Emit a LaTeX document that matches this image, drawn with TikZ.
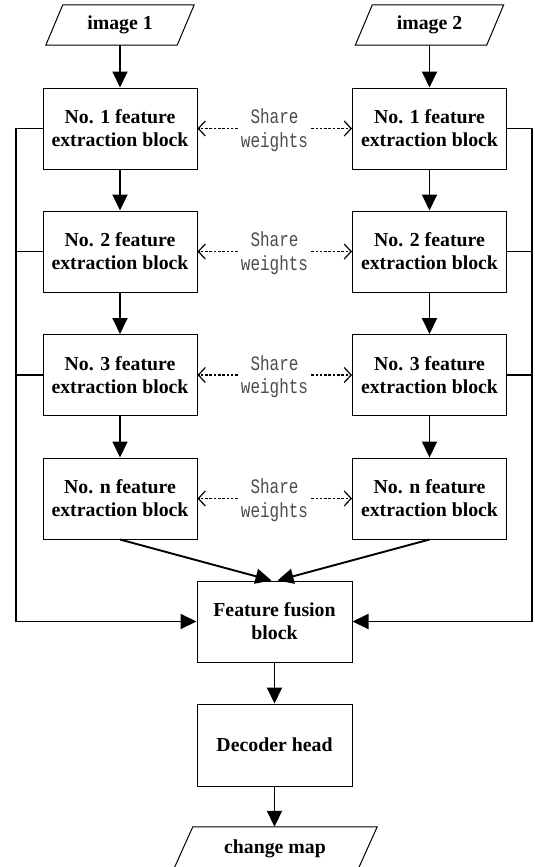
\documentclass[tikz,border=0pt]{standalone}
\usepackage{fontspec}
\setmainfont{Liberation Serif}
\newfontfamily\swfont[FakeStretch=0.78]{Liberation Mono}
\usetikzlibrary{arrows.meta}
\begin{document}
\begin{tikzpicture}[x=1pt,y=-1pt,
  fbox/.style={draw, line width=1pt, minimum width=154pt, minimum height=81pt,
    inner sep=0pt, align=center, font=\bfseries\fontsize{19.8}{23}\selectfont},
  para/.style={inner sep=0pt, minimum height=40pt, align=center,
    font=\bfseries\fontsize{19.8}{23}\selectfont},
  paraline/.style={line width=1pt},
  flow/.style={line width=1.9pt, -{Triangle[length=16pt,width=15pt]}},
  link/.style={line width=1.9pt},
  share/.style={align=center, font=\swfont\fontsize{20.5}{23.5}\selectfont,
    text=black!70, inner xsep=3pt, inner ysep=0pt},
  sharearrow/.style={line width=1.2pt, dash pattern=on 2.5pt off 1.8pt,
    -{Straight Barb[length=7pt,width=15pt,line width=1.2pt]}}]
\path[use as bounding box] (0,0) rectangle (535,867);

% inputs
\node[para, minimum width=148pt] (img1) at (120,25) {image 1};
\draw[paraline] ([xshift=17pt]img1.north west) -- (img1.north east)
  -- ([xshift=-17pt]img1.south east) -- (img1.south west) -- cycle;
\node[para, minimum width=148pt] (img2) at (429.5,25) {image 2};
\draw[paraline] ([xshift=17pt]img2.north west) -- (img2.north east)
  -- ([xshift=-17pt]img2.south east) -- (img2.south west) -- cycle;

% feature extraction blocks
\node[fbox] (L1) at (120,128.5) {No. 1 feature\\extraction block};
\node[fbox] (L2) at (120,251.5) {No. 2 feature\\extraction block};
\node[fbox] (L3) at (120,375) {No. 3 feature\\extraction block};
\node[fbox] (Ln) at (120,498.5) {No. n feature\\extraction block};
\node[fbox] (R1) at (429.5,128.5) {No. 1 feature\\extraction block};
\node[fbox] (R2) at (429.5,251.5) {No. 2 feature\\extraction block};
\node[fbox] (R3) at (429.5,375) {No. 3 feature\\extraction block};
\node[fbox] (Rn) at (429.5,498.5) {No. n feature\\extraction block};

% share weights
\node[share] (s1) at (274.5,130) {Share\\weights};
\node[share] (s2) at (274.5,253) {Share\\weights};
\node[share] (s3) at (274.5,376.5) {Share\\weights};
\node[share] (sn) at (274.5,500) {Share\\weights};
\foreach \s/\l/\r in {s1/L1/R1, s2/L2/R2, s3/L3/R3, sn/Ln/Rn}{
  \draw[sharearrow] (\s.west |- \l.east) -- (\l.east);
  \draw[sharearrow] (\s.east |- \r.west) -- (\r.west);
}

% fusion, decoder, output
\node[fbox, minimum width=155pt] (fus) at (274.5,621.5) {Feature fusion\\block};
\node[fbox, minimum width=155pt, minimum height=82pt] (dec) at (274.5,745) {Decoder head};
\node[para, minimum width=204pt, minimum height=44pt] (out) at (275,849) {change map};
\draw[paraline] ([xshift=20pt]out.north west) -- (out.north east)
  -- ([xshift=-20pt]out.south east) -- (out.south west) -- cycle;

% vertical flow
\draw[flow] (img1) -- (L1);
\draw[flow] (L1) -- (L2);
\draw[flow] (L2) -- (L3);
\draw[flow] (L3) -- (Ln);
\draw[flow] (img2) -- (R1);
\draw[flow] (R1) -- (R2);
\draw[flow] (R2) -- (R3);
\draw[flow] (R3) -- (Rn);
\draw[flow] (Ln.south) -- ([xshift=-3pt]fus.north);
\draw[flow] (Rn.south) -- ([xshift=3pt]fus.north);
\draw[flow] (fus) -- (dec);
\draw[flow] (dec.south) -- (dec.south |- out.north);

% side buses
\coordinate (busL) at (16,0);
\coordinate (busR) at (532,0);
\draw[flow] (L1.west) -- (L1.west -| busL) |- (fus.west);
\draw[link] (L2.west) -- (L2.west -| busL);
\draw[link] (L3.west) -- (L3.west -| busL);
\draw[flow] (R1.east) -- (R1.east -| busR) |- (fus.east);
\draw[link] (R2.east) -- (R2.east -| busR);
\draw[link] (R3.east) -- (R3.east -| busR);
\end{tikzpicture}
\end{document}
